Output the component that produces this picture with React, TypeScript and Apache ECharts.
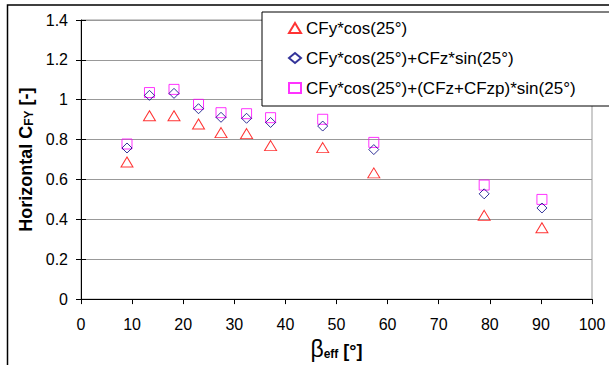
import React, { useEffect, useRef } from "react";
import * as echarts from "echarts";

// Effective angle β_eff [°]
const betaEff = [9.0, 13.4, 18.2, 23.0, 27.4, 32.4, 37.1, 47.3, 57.3, 78.9, 90.2];
// CFy*cos(25°)
const cfyCos = [0.688, 0.92, 0.92, 0.878, 0.835, 0.83, 0.77, 0.76, 0.633, 0.42, 0.358];
// CFy*cos(25°)+CFz*sin(25°)
const cfyCfz = [0.758, 1.022, 1.032, 0.955, 0.912, 0.907, 0.886, 0.868, 0.75, 0.528, 0.457];
// CFy*cos(25°)+(CFz+CFzp)*sin(25°)
const cfyCfzp = [0.778, 1.036, 1.052, 0.977, 0.935, 0.93, 0.91, 0.902, 0.786, 0.572, 0.5];

const seriesNames = [
  "CFy*cos(25°)",
  "CFy*cos(25°)+CFz*sin(25°)",
  "CFy*cos(25°)+(CFz+CFzp)*sin(25°)",
];

const xTicks = { min: 0, max: 100, interval: 10 };
const yTicks = { min: 0, max: 1.4, interval: 0.2 };

const FONT = "'Liberation Sans', Arial, sans-serif";

export default function App() {
  const ref = useRef<HTMLDivElement>(null);

  useEffect(() => {
    if (!ref.current) return;
    const chart = echarts.init(ref.current, null, { renderer: "svg" });

    const pairs = (ys: number[]) => betaEff.map((x, i) => [x, ys[i]]);

    const hollow = (color: string) => ({
      color: "rgba(255,255,255,0)",
      borderColor: color,
      borderWidth: 1,
    });

    const yAxisBase = {
      type: "value",
      min: yTicks.min,
      max: yTicks.max,
      interval: yTicks.interval,
      position: "left",
    };

    chart.setOption({
      animation: false,
      backgroundColor: "#fff",
      textStyle: { fontFamily: FONT },
      grid: {
        left: 81,
        right: 17,
        top: 20,
        bottom: 63.5,
        show: true,
        borderColor: "#999",
        borderWidth: 1,
        backgroundColor: "transparent",
      },
      legend: {
        orient: "vertical",
        left: 262,
        top: 12,
        padding: [6, 39, 8, 26],
        itemGap: 10,
        itemWidth: 12,
        itemHeight: 10,
        backgroundColor: "#fff",
        borderColor: "#000",
        borderWidth: 1,
        textStyle: { fontFamily: FONT, fontSize: 17, color: "#000", lineHeight: 20 },
        data: seriesNames,
      },
      xAxis: {
        type: "value",
        min: xTicks.min,
        max: xTicks.max,
        interval: xTicks.interval,
        name: "{beta|β}{sub|eff}{t| [°]}",
        nameLocation: "middle",
        nameGap: 36,
        nameTextStyle: {
          rich: {
            beta: { fontFamily: FONT, fontSize: 23, color: "#000", lineHeight: 24, verticalAlign: "bottom" },
            sub: { fontFamily: FONT, fontSize: 12, fontWeight: "bold", color: "#000", lineHeight: 14, verticalAlign: "bottom" },
            t: { fontFamily: FONT, fontSize: 18, fontWeight: "bold", color: "#000", lineHeight: 22, verticalAlign: "bottom" },
          },
        },
        axisLine: { lineStyle: { color: "#000", width: 1 } },
        axisTick: { show: true, inside: false, length: 5, lineStyle: { color: "#000" } },
        axisLabel: { fontFamily: FONT, fontSize: 16, color: "#000", margin: 17 },
        splitLine: { show: false },
      },
      yAxis: [
        {
          ...yAxisBase,
          name: "{a|Horizontal C}{b|FY}{a| [-]}",
          nameLocation: "middle",
          nameGap: 41,
          nameRotate: 90,
          nameTextStyle: {
            rich: {
              a: { fontFamily: FONT, fontSize: 18, fontWeight: "bold", color: "#000", lineHeight: 20, verticalAlign: "bottom" },
              b: { fontFamily: FONT, fontSize: 12, fontWeight: "bold", color: "#000", lineHeight: 13, verticalAlign: "bottom" },
            },
          },
          axisLine: { show: true, lineStyle: { color: "#000", width: 1 } },
          axisTick: { show: true, inside: false, length: 5, lineStyle: { color: "#000" } },
          axisLabel: {
            fontFamily: FONT,
            fontSize: 16,
            color: "#000",
            margin: 13,
            formatter: (v: number) => String(Math.round(v * 10) / 10),
          },
          splitLine: { show: true, lineStyle: { color: "#999", width: 1 } },
        },
        {
          // inner half of the crossing ticks on the value axis
          ...yAxisBase,
          axisLine: { show: false },
          axisTick: { show: true, inside: true, length: 5, lineStyle: { color: "#000" } },
          axisLabel: { show: false },
          splitLine: { show: false },
        },
      ],
      graphic: [
        {
          type: "rect",
          silent: true,
          z: 100,
          shape: { x: 7.5, y: 5, width: 700, height: 400 },
          style: { fill: "none", stroke: "#000", lineWidth: 1.5 },
        },
      ],
      series: [
        {
          name: seriesNames[0],
          type: "scatter",
          symbol: "triangle",
          symbolSize: [12, 10],
          itemStyle: hollow("#ff0000"),
          data: pairs(cfyCos),
          z: 3,
        },
        {
          name: seriesNames[1],
          type: "scatter",
          symbol: "diamond",
          symbolSize: [10, 10],
          itemStyle: hollow("#000080"),
          data: pairs(cfyCfz),
          z: 4,
        },
        {
          name: seriesNames[2],
          type: "scatter",
          symbol: "rect",
          symbolSize: [10, 10],
          itemStyle: hollow("#ff00ff"),
          data: pairs(cfyCfzp),
          z: 3,
        },
      ],
    });

    return () => chart.dispose();
  }, []);

  return (
    <div
      ref={ref}
      style={{ position: "fixed", left: 0, top: 0, width: 609, height: 365, background: "#fff" }}
    />
  );
}
